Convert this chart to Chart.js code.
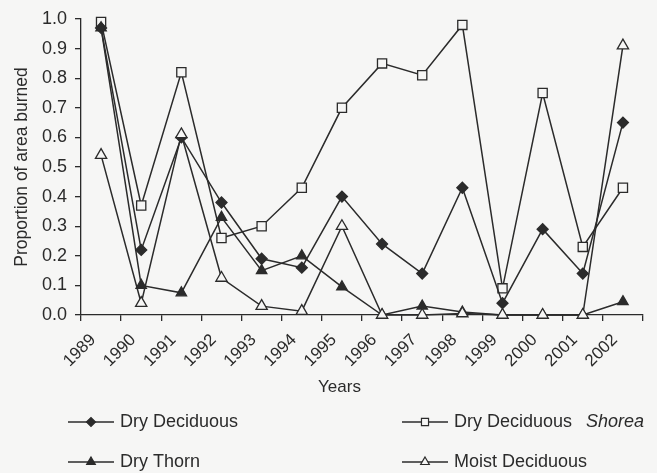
<!DOCTYPE html>
<html>
<head>
<meta charset="utf-8">
<script src="https://cdn.jsdelivr.net/npm/chart.js@4.4.1/dist/chart.umd.min.js"></script>
<style>
  html, body { margin: 0; padding: 0; background: #f6f6f5; }
  #wrap { position: relative; width: 657px; height: 473px; }
  canvas { display: block; }
</style>
</head>
<body>
<div id="wrap"><canvas id="c" width="657" height="473"></canvas></div>
<script>
// ---- data ----
const years = ['1989','1990','1991','1992','1993','1994','1995','1996','1997','1998','1999','2000','2001','2002'];
const dryDeciduous       = [0.97, 0.22, 0.60, 0.38, 0.19, 0.16, 0.40, 0.24, 0.14, 0.43, 0.04, 0.29, 0.14, 0.65];
const dryDeciduousShorea = [0.99, 0.37, 0.82, 0.26, 0.30, 0.43, 0.70, 0.85, 0.81, 0.98, 0.09, 0.75, 0.23, 0.43];
const dryThorn           = [0.97, 0.10, 0.075, 0.33, 0.15, 0.20, 0.095, 0.00, 0.03, 0.01, 0.00, 0.00, 0.00, 0.045];
const moistDeciduous     = [0.54, 0.04, 0.61, 0.125, 0.03, 0.013, 0.30, 0.00, 0.00, 0.005, 0.00, 0.00, 0.00, 0.91];
const yAxisTitle = 'Proportion of area burned';
const xAxisTitle = 'Years';

const INK = '#2b2b2b';
const BG = '#f6f6f5';
const FONT = '"Liberation Sans", Arial, sans-serif';

const datasets = [
  { label: 'Dry Deciduous', data: dryDeciduous, pointStyle: 'rectRot', pointRadius: 5.5,
    backgroundColor: INK, borderColor: INK, legendRadius: 4.5, italic: '', order: 2 },
  { label: 'Dry Deciduous', data: dryDeciduousShorea, pointStyle: 'rect', pointRadius: 6.5,
    backgroundColor: BG, borderColor: INK, legendRadius: 5, italic: 'Shorea', order: 3 },
  { label: 'Dry Thorn', data: dryThorn, pointStyle: 'triangle', pointRadius: 6,
    backgroundColor: INK, borderColor: INK, legendRadius: 5, italic: '', order: 1 },
  { label: 'Moist Deciduous', data: moistDeciduous, pointStyle: 'triangle', pointRadius: 6.5,
    backgroundColor: BG, borderColor: INK, legendRadius: 5, italic: '', order: 0 }
].map(d => Object.assign({
  borderWidth: 1.5, pointBorderWidth: 1.3, tension: 0, fill: false, clip: false,
  pointBackgroundColor: d.backgroundColor, pointBorderColor: d.borderColor,
  pointHoverRadius: d.pointRadius
}, d));

// Custom legend (two columns, italic genus name) + shifted x-axis title
const extrasPlugin = {
  id: 'extras',
  afterDraw(chart) {
    const ctx = chart.ctx;
    const ca = chart.chartArea;
    ctx.save();
    // x axis title
    ctx.fillStyle = INK;
    ctx.font = '17px ' + FONT;
    ctx.textAlign = 'center';
    ctx.textBaseline = 'middle';
    ctx.fillText(xAxisTitle, ca.left + ca.width * 0.46, 387);

    // legend
    const slots = [
      { x: 68, y: 422 }, { x: 402, y: 422 },
      { x: 68, y: 462 }, { x: 402, y: 462 }
    ];
    chart.data.datasets.forEach((ds, i) => {
      const s = slots[i];
      const lineLen = 46;
      ctx.strokeStyle = ds.borderColor;
      ctx.lineWidth = 1.5;
      ctx.beginPath();
      ctx.moveTo(s.x, s.y);
      ctx.lineTo(s.x + lineLen, s.y);
      ctx.stroke();
      const opts = { pointStyle: ds.pointStyle, radius: ds.legendRadius, borderWidth: 1.2, rotation: 0 };
      ctx.fillStyle = ds.pointBackgroundColor;
      ctx.strokeStyle = ds.pointBorderColor;
      ctx.lineWidth = 1.2;
      if (Chart.helpers && Chart.helpers.drawPoint) {
        Chart.helpers.drawPoint(ctx, opts, s.x + lineLen / 2, s.y);
      }
      ctx.fillStyle = INK;
      ctx.textAlign = 'left';
      ctx.textBaseline = 'middle';
      ctx.font = '18px ' + FONT;
      const tx = s.x + lineLen + 6;
      ctx.fillText(ds.label, tx, s.y);
      if (ds.italic) {
        const w = ctx.measureText(ds.label).width;
        ctx.font = 'italic 18px ' + FONT;
        ctx.fillText(ds.italic, tx + w + 14, s.y);
      }
    });
    ctx.restore();
  }
};

const bgPlugin = {
  id: 'bg',
  beforeDraw(chart) {
    const ctx = chart.ctx;
    ctx.save();
    ctx.fillStyle = BG;
    ctx.fillRect(0, 0, chart.width, chart.height);
    ctx.restore();
  }
};

new Chart(document.getElementById('c'), {
  type: 'line',
  data: { labels: years, datasets },
  plugins: [bgPlugin, extrasPlugin],
  options: {
    responsive: false,
    animation: false,
    devicePixelRatio: 1,
    layout: { padding: { top: 19, right: 14, left: 0, bottom: 0 } },
    plugins: { legend: { display: false }, tooltip: { enabled: false } },
    scales: {
      x: {
        type: 'category',
        offset: true,
        afterFit(scale) { scale.height = 158; },
        grid: { offset: true, drawOnChartArea: false, drawTicks: true, tickLength: 6, color: INK, lineWidth: 1.3 },
        border: { display: true, color: INK, width: 1.3 },
        ticks: {
          color: INK, font: { family: FONT, size: 17 },
          minRotation: 45, maxRotation: 45, autoSkip: false,
          padding: 9, labelOffset: -8
        }
      },
      y: {
        min: 0, max: 1,
        afterFit(scale) { scale.width = 81; },
        grid: { drawOnChartArea: false, drawTicks: true, tickLength: 6, color: INK, lineWidth: 1.3 },
        border: { display: true, color: INK, width: 1.3 },
        ticks: {
          stepSize: 0.1, color: INK, font: { family: FONT, size: 18 }, padding: 8,
          callback: (v) => Number(v).toFixed(1)
        },
        title: {
          display: true, text: yAxisTitle, color: INK,
          font: { family: FONT, size: 17.5 }, padding: { top: 12, bottom: 0 }
        }
      }
    }
  }
});
</script>
</body>
</html>
